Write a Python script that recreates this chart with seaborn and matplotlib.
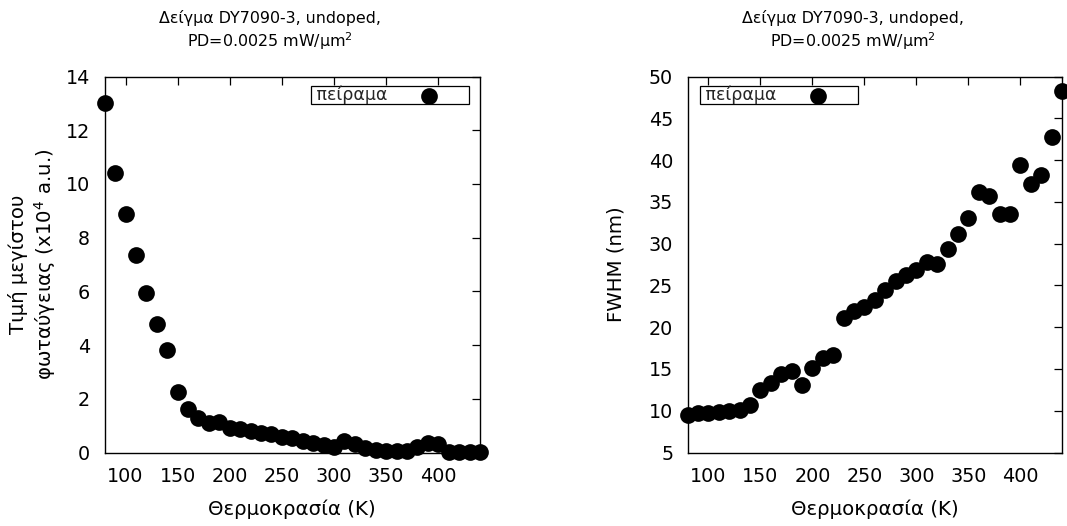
import matplotlib
matplotlib.use("Agg")
import matplotlib.pyplot as plt
import numpy as np
import pandas as pd
import seaborn as sns

# ---- data ----
temperature = [80, 90, 100, 110, 120, 130, 140, 150, 160, 170, 180, 190, 200,
               210, 220, 230, 240, 250, 260, 270, 280, 290, 300, 310, 320, 330,
               340, 350, 360, 370, 380, 390, 400, 410, 420, 430, 440]
peak_intensity = [13.0, 10.4, 8.88, 7.35, 5.95, 4.78, 3.82, 2.26, 1.62, 1.27,
                  1.11, 1.12, 0.90, 0.86, 0.80, 0.74, 0.69, 0.59, 0.53, 0.44,
                  0.37, 0.28, 0.22, 0.42, 0.32, 0.18, 0.08, 0.05, 0.04, 0.05,
                  0.20, 0.36, 0.32, 0.02, 0.02, 0.02, 0.02]
fwhm = [9.5, 9.7, 9.7, 9.8, 10.0, 10.1, 10.7, 12.5, 13.3, 14.4, 14.7, 13.1,
        15.1, 16.3, 16.7, 21.1, 21.9, 22.4, 23.3, 24.5, 25.5, 26.2, 26.9, 27.8,
        27.6, 29.3, 31.2, 33.1, 36.2, 35.7, 33.5, 33.5, 39.4, 37.1, 38.2, 42.8,
        48.3]

title_text = "Δείγμα DY7090-3, undoped,\nPD=0.0025 mW/μm$^2$"
xlabel_text = "Θερμοκρασία (K)"
ylabel_left = "Τιμή μεγίστου\nφωταύγειας (x10$^4$ a.u.)"
ylabel_right = "FWHM (nm)"
legend_label = " πείραμα"
xticks = [100, 150, 200, 250, 300, 350, 400]
yticks_left = [0, 2, 4, 6, 8, 10, 12, 14]
yticks_right = [5, 10, 15, 20, 25, 30, 35, 40, 45, 50]

df = pd.DataFrame({"T": temperature, "peak": peak_intensity, "fwhm": fwhm})

sns.set_theme(style="white")
plt.rcParams["font.family"] = ["DejaVu Sans"]
plt.rcParams["mathtext.fontset"] = "dejavusans"

TICK_FS = 13.8
LABEL_FS = 14.2
TITLE_FS = 11.4
fig = plt.figure(figsize=(10.67, 5.26), dpi=100)
ax1 = fig.add_axes([0.0981, 0.1397, 0.3517, 0.7148])
ax2 = fig.add_axes([0.6445, 0.1397, 0.3508, 0.7148])


def style_axes(ax, ylim, yticks, ylabel, ylabelpad):
    ax.set_xlim(80, 440)
    ax.set_ylim(*ylim)
    ax.set_xticks(xticks)
    ax.set_yticks(yticks)
    ax.tick_params(direction="in", top=True, right=True, length=5.5,
                   width=0.9, labelsize=TICK_FS, pad=10.5, colors="black")
    for sp in ax.spines.values():
        sp.set_color("black")
        sp.set_linewidth(1.0)
    ax.set_xlabel(xlabel_text, fontsize=LABEL_FS, labelpad=9.5, color="black")
    ax.set_ylabel(ylabel, fontsize=LABEL_FS, labelpad=ylabelpad, color="black")
    t = ax.set_title(title_text, fontsize=TITLE_FS, pad=21.5, color="black",
                     linespacing=1.25)
    t.set_x(0.441)


def add_legend(ax, x0):
    leg = ax.legend(loc="upper left", bbox_to_anchor=(x0, 0.975),
                    markerfirst=False, fontsize=12.5, frameon=True,
                    fancybox=False, edgecolor="black", framealpha=1,
                    borderpad=0.0, handletextpad=0.1, handlelength=4.6,
                    borderaxespad=0, scatterpoints=1)
    leg.get_frame().set_linewidth(0.9)


sns.scatterplot(data=df, x="T", y="peak", ax=ax1, color="black", s=145,
                linewidth=0, clip_on=False, label=legend_label, zorder=3)
style_axes(ax1, (0, 14), yticks_left, ylabel_left, 5.5)
add_legend(ax1, 0.549)

sns.scatterplot(data=df, x="T", y="fwhm", ax=ax2, color="black", s=145,
                linewidth=0, clip_on=False, label=legend_label, zorder=3)
style_axes(ax2, (5, 50), yticks_right, ylabel_right, 16.5)
add_legend(ax2, 0.033)

fig.savefig("out.png", dpi=100)
